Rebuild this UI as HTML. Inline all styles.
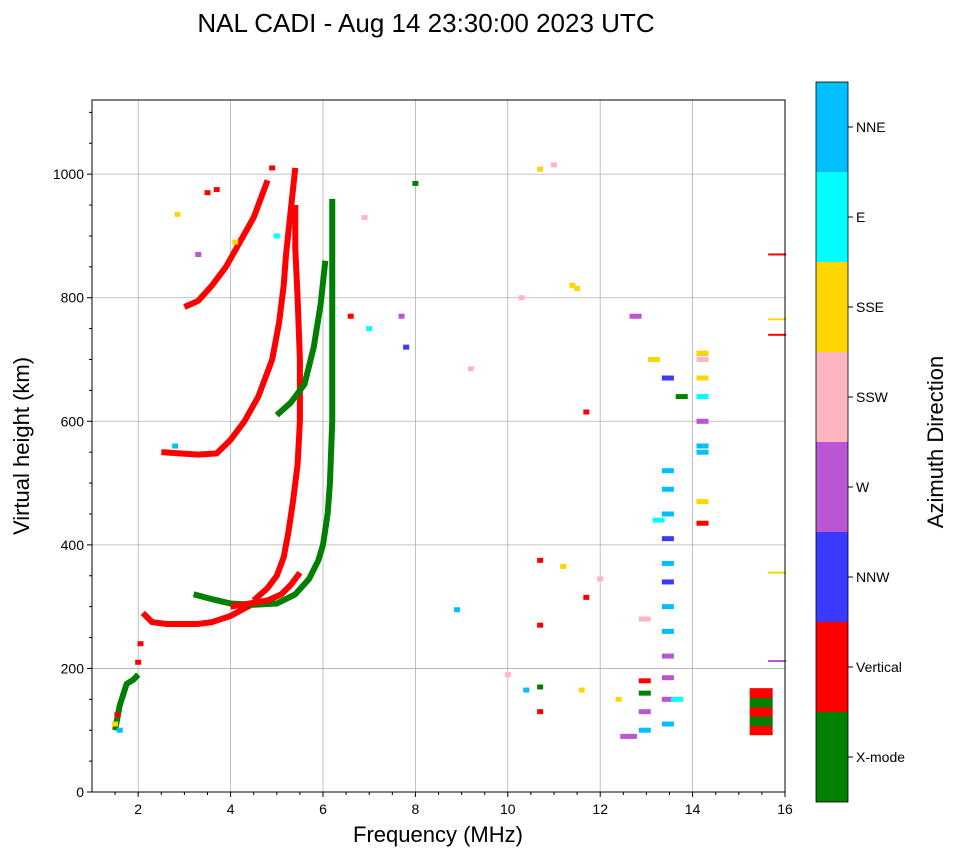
<!DOCTYPE html>
<html><head><meta charset="utf-8"><style>
body{margin:0;background:#fff;font-family:"Liberation Sans",sans-serif}
</style></head><body>
<svg id="chart" width="958" height="857" xmlns="http://www.w3.org/2000/svg" font-family="Liberation Sans, sans-serif">
<text x="426" y="32" font-size="26" text-anchor="middle">NAL CADI - Aug 14 23:30:00 2023 UTC</text>
<g id="grid"></g>
<g id="marks"></g>
<rect x="92" y="100" width="693" height="692" fill="none" stroke="#000" stroke-width="1"/>
<g id="axes"></g>
<text x="438" y="842" font-size="22" text-anchor="middle">Frequency (MHz)</text>
<text transform="translate(29,446) rotate(-90)" font-size="22" text-anchor="middle">Virtual height (km)</text>
<g id="colorbar"></g>
<text transform="translate(943,442) rotate(-90)" font-size="22" text-anchor="middle">Azimuth Direction</text>
</svg>
<script>
const directions = ["X-mode","Vertical","NNW","W","SSW","SSE","E","NNE"];
const dirColors = ["#008000","#ff0000","#3a3aff","#ba55d3","#ffb6c1","#ffd700","#00ffff","#00bfff"];
const xTicks = [2,4,6,8,10,12,14,16];
const yTicks = [0,200,400,600,800,1000];
const traceColors = [1,0,1,1,0,1,0,1];
const traceFreqs = [
 [2.1,2.3,2.6,3.0,3.3,3.6,4.0,4.5],
 [3.2,3.6,4.0,4.5,5.0,5.4,5.7,5.9,6.0,6.1,6.15,6.2,6.2,6.2],
 [4.5,4.8,5.0,5.15,5.25,5.35,5.45,5.5,5.5,5.45,5.4,5.4],
 [2.5,2.9,3.3,3.7,4.0,4.3,4.6,4.9,5.05,5.15,5.2,5.3,5.4],
 [5.0,5.3,5.6,5.8,5.95,6.05],
 [3.0,3.3,3.6,3.9,4.2,4.5,4.8],
 [1.5,1.6,1.75,1.9,2.0],
 [4.0,4.4,4.8,5.1,5.3,5.5]
];
const traceHeights = [
 [290,275,272,272,272,275,285,305],
 [320,312,305,303,305,320,345,375,400,450,500,600,800,960],
 [310,330,350,380,420,470,530,600,700,800,880,950],
 [550,548,546,548,570,600,640,700,760,820,870,940,1010],
 [610,630,660,720,790,860],
 [785,795,820,850,890,930,990],
 [100,140,175,182,190],
 [300,305,310,320,335,355]
];
const ptFreq = [1.5,1.55,1.6,2.0,2.05,2.8,2.85,3.3,3.5,3.7,4.1,4.9,5.0,6.6,6.9,7.0,7.7,7.8,8.0,8.9,9.2,10.0,10.3,10.4,10.7,10.7,10.7,10.7,10.7,11.0,11.2,11.4,11.5,11.6,11.7,11.7,12.0,12.4,12.5,12.6,12.7,12.9,12.9,12.9,12.9,12.9,13.1,13.2,13.4,13.4,13.4,13.4,13.4,13.4,13.4,13.4,13.4,13.4,13.4,13.4,13.4,13.6,13.7,14.15,14.15,14.15,14.15,14.15,14.15,14.15,14.15,14.15,14.15,14.15,15.3,15.3,15.3,15.3,15.3,15.7,15.7,15.7,15.7,15.7];
const ptHeight = [110,125,100,210,240,560,935,870,970,975,890,1010,900,770,930,750,770,720,985,295,685,190,800,165,1008,375,270,170,130,1015,365,820,815,165,315,615,345,150,90,90,770,100,130,160,180,280,700,440,110,150,185,220,260,300,340,370,410,450,490,520,670,150,640,435,470,550,560,600,640,670,700,710,710,600,100,115,130,145,160,870,765,740,355,212];
const ptColor = [5,1,7,1,1,7,5,3,1,1,5,1,6,1,4,6,3,2,0,7,4,4,4,7,5,1,1,0,1,4,5,5,5,5,1,1,4,5,3,3,3,7,3,0,1,4,5,6,7,3,3,3,7,7,2,7,2,7,7,7,2,6,0,1,5,7,7,4,6,5,4,3,5,3,1,0,1,0,1,1,5,1,5,3];
const X0=92,X1=785,Y0=792,Y1=100;
const xs = f => X0 + (f-1)/(16-1)*(X1-X0);
const ys = h => Y0 - h/1120*(Y0-Y1);
const NS="http://www.w3.org/2000/svg";
function mk(tag,attrs,parent){const e=document.createElementNS(NS,tag);for(const k in attrs)e.setAttribute(k,attrs[k]);parent.appendChild(e);return e;}
const grid=document.getElementById('grid'),axes=document.getElementById('axes'),marks=document.getElementById('marks'),cb=document.getElementById('colorbar');
xTicks.forEach(t=>{const x=xs(t);
 if(t<16){const g=mk('line',{x1:x,x2:x,y1:Y1,y2:Y0,stroke:'#b0b0b0','stroke-width':0.8},grid);}
 const tk=mk('line',{x1:x,x2:x,y1:Y0,y2:Y0+5,stroke:'#000'},axes);
 const l=mk('text',{x:x,y:Y0+22,'font-size':14,'text-anchor':'middle'},axes);l.textContent=t;});
for(let f=1.5;f<16;f+=0.5){if(f%2===0)continue;const x=xs(f);mk('line',{x1:x,x2:x,y1:Y0,y2:Y0+3,stroke:'#000'},axes);}
yTicks.forEach(t=>{const y=ys(t);
 if(t>0){const g=mk('line',{x1:X0,x2:X1,y1:y,y2:y,stroke:'#b0b0b0','stroke-width':0.8},grid);}
 const tk=mk('line',{x1:X0-5,x2:X0,y1:y,y2:y,stroke:'#000'},axes);
 const l=mk('text',{x:X0-8,y:y+5,'font-size':14,'text-anchor':'end'},axes);l.textContent=t;});
for(let h=50;h<1120;h+=50){if(h%200===0)continue;const y=ys(h);mk('line',{x1:X0-3,x2:X0,y1:y,y2:y,stroke:'#000'},axes);}
traceFreqs.forEach((fs,i)=>{const pts=fs.map((f,j)=>xs(f)+','+ys(traceHeights[i][j])).join(' ');
 const p=mk('polyline',{points:pts,fill:'none',stroke:dirColors[traceColors[i]],'stroke-width':6,'stroke-linejoin':'round'},marks);
 
 });
ptFreq.forEach((f,i)=>{const big=f>15&&f<15.5;const edge=f>=15.5;
 const r=mk('rect',{x:xs(f)-3,y:ys(ptHeight[i])-(big?5:(edge?1:2.5)),width:big?23:(edge?18:(f>12.5?12:6)),height:big?10:(edge?2:5),fill:dirColors[ptColor[i]]},marks);
 
 });
directions.forEach((d,i)=>{const y=802-(i+1)*90;
 const r=mk('rect',{x:816,y:y,width:32,height:90,fill:dirColors[i]},cb);
 mk('line',{x1:848,x2:853,y1:y+45,y2:y+45,stroke:'#000'},cb);
 const l=mk('text',{x:856,y:y+50,'font-size':14},cb);l.textContent=d;});
mk('rect',{x:816,y:82,width:32,height:720,fill:'none',stroke:'#000','stroke-width':0.8},cb);
</script>
</body></html>
